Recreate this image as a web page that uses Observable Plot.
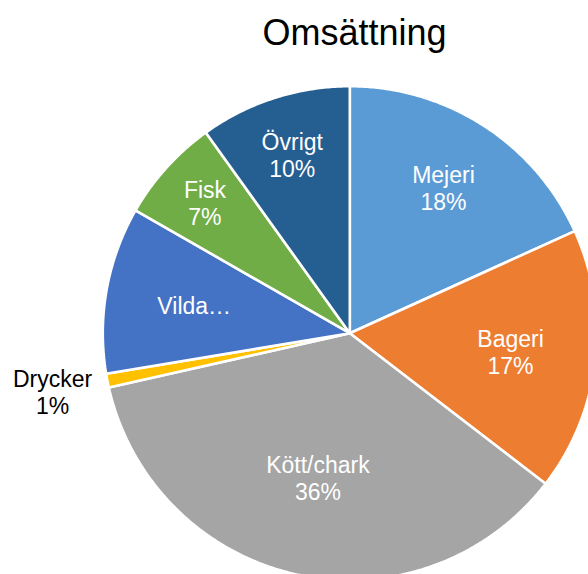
<!DOCTYPE html>
<html>
<head>
<meta charset="utf-8">
<script src="https://cdn.jsdelivr.net/npm/d3@7"></script>
<script src="https://cdn.jsdelivr.net/npm/@observablehq/plot@0.6"></script>
<style>
  html, body { margin: 0; padding: 0; background: #fff; overflow: hidden; }
  #chart { width: 588px; height: 574px; }
</style>
</head>
<body>
<div id="chart"></div>
<script>
// ---- data ----
const categories = ["Mejeri", "Bageri", "Kött/chark", "Drycker", "Vilda…", "Fisk", "Övrigt"];
const shares = [18.2, 17.2, 36.0, 0.9, 10.9, 6.8, 9.9];
const showPercent = [true, true, true, true, false, true, true];
const colors = ["#5B9BD5", "#ED7D31", "#A5A5A5", "#FFC000", "#4472C4", "#70AD47", "#255E91"];
const title = "Omsättning";

// ---- layout ----
const W = 588, H = 574;
const cx = 349.3, cy = 332.7, R = 247;         // pie centre / radius in pixels
const labelRadius = [0.70, 0.655, 0.60, 1.226, 0.64, 0.79, 0.76]; // label distance as fraction of radius
const labelOutside = [false, false, false, true, false, false, false];

const total = d3.sum(shares);
let cum = 0;
const slices = categories.map((name, i) => {
  const a0 = cum / total * 2 * Math.PI;
  cum += shares[i];
  const a1 = cum / total * 2 * Math.PI;
  return {name, a0, a1, i};
});

// polygon points for each slice (centre -> arc -> centre), unit radius, y up
const pts = [];
for (const s of slices) {
  pts.push({name: s.name, x: 0, y: 0});
  const n = Math.max(2, Math.ceil((s.a1 - s.a0) / (Math.PI / 360)));
  for (let k = 0; k <= n; k++) {
    const a = s.a0 + (s.a1 - s.a0) * k / n;
    pts.push({name: s.name, x: Math.sin(a), y: Math.cos(a)});
  }
  pts.push({name: s.name, x: 0, y: 0});
}

const labels = slices.map(s => {
  const m = (s.a0 + s.a1) / 2;
  const r = labelRadius[s.i];
  const pct = Math.round(shares[s.i] / total * 100);
  return {
    x: Math.sin(m) * r,
    y: Math.cos(m) * r,
    text: showPercent[s.i] ? `${s.name}\n${pct}%` : s.name,
    color: labelOutside[s.i] ? "#000000" : "#ffffff"
  };
});

const chart = Plot.plot({
  width: W,
  height: H,
  margin: 0,
  style: {fontFamily: "'Liberation Sans', Arial, sans-serif", background: "#fff"},
  x: {domain: [-cx / R, (W - cx) / R], range: [0, W], axis: null},
  y: {domain: [-(H - cy) / R, cy / R], range: [H, 0], axis: null},
  color: {type: "ordinal", domain: categories, range: colors},
  marks: [
    Plot.line(pts, {x: "x", y: "y", z: "name", fill: "name", stroke: "#ffffff", strokeWidth: 2.6, strokeLinejoin: "miter", clip: true}),
    Plot.text(labels, {x: "x", y: "y", text: "text", fill: "color", fontSize: 23, lineHeight: 1.18, lineAnchor: "middle", textAnchor: "middle"}),
    Plot.text([title], {frameAnchor: "top", dx: 60, dy: 19, text: d => d, fontSize: 36, fill: "#000", lineAnchor: "top", textAnchor: "middle"})
  ]
});
document.getElementById("chart").appendChild(chart);
</script>
</body>
</html>
